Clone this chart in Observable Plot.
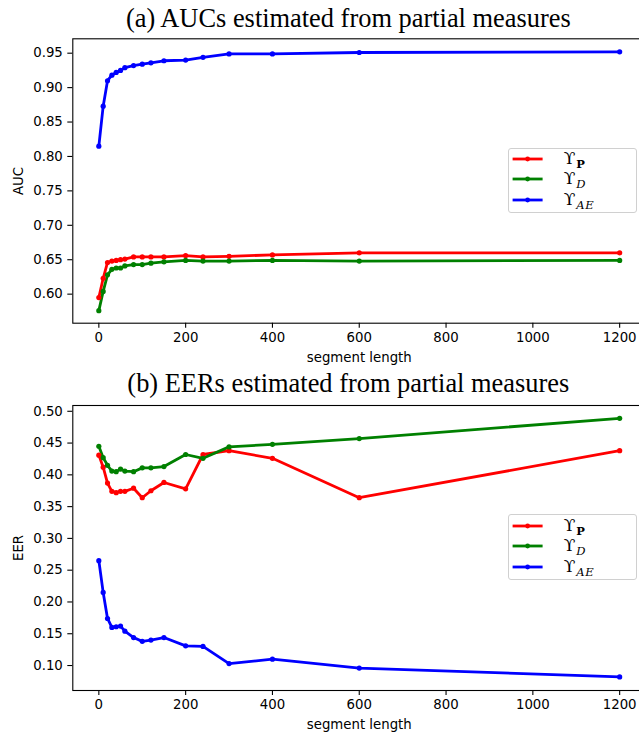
<!DOCTYPE html>
<html><head><meta charset="utf-8">
<script src="https://cdn.jsdelivr.net/npm/d3@7"></script>
<script src="https://cdn.jsdelivr.net/npm/@observablehq/plot@0.6"></script>
<style>
html,body{margin:0;padding:0;background:#fff;overflow:hidden;}
#root{position:relative;width:639px;height:735px;overflow:hidden;background:#fff;}
.title{position:absolute;left:48.3px;width:600px;text-align:center;font-family:"Liberation Serif","Times New Roman",serif;font-size:26.4px;line-height:30px;white-space:nowrap;color:#000;}
.chart{position:absolute;left:0;}
.legend{position:absolute;left:507.7px;width:129px;height:65.5px;box-sizing:border-box;border:1px solid #d0d0d0;border-radius:3px;background:rgba(255,255,255,0.85);}
.lrow{position:absolute;left:0;height:20px;width:127px;}
.lrow svg{position:absolute;left:0;top:0;}
.lab{position:absolute;left:55px;top:-1px;line-height:20px;font-family:"DejaVu Serif",serif;font-size:17px;color:#000;white-space:nowrap;}
.lab sub{font-size:11.5px;vertical-align:-4px;line-height:0;margin-left:1px;}
</style></head>
<body><div id="root"></div>
<script>
// segment lengths (x)
const segLen = [0, 10, 20, 30, 40, 50, 60, 80, 100, 120, 150, 200, 240, 300, 400, 600, 1200];
// (a) AUC values
const aucP  = [0.595, 0.623, 0.646, 0.648, 0.649, 0.650, 0.651, 0.654, 0.654, 0.654, 0.654, 0.656, 0.654, 0.655, 0.657, 0.660, 0.660];
const aucD  = [0.576, 0.604, 0.628, 0.636, 0.638, 0.638, 0.641, 0.643, 0.643, 0.645, 0.647, 0.649, 0.648, 0.648, 0.649, 0.648, 0.649];
const aucAE = [0.815, 0.873, 0.910, 0.918, 0.922, 0.925, 0.929, 0.932, 0.934, 0.936, 0.939, 0.940, 0.944, 0.949, 0.949, 0.951, 0.952];
// (b) EER values
const eerP  = [0.431, 0.412, 0.387, 0.374, 0.372, 0.374, 0.374, 0.379, 0.364, 0.375, 0.388, 0.378, 0.432, 0.438, 0.426, 0.364, 0.438];
const eerD  = [0.445, 0.427, 0.415, 0.406, 0.405, 0.409, 0.406, 0.405, 0.411, 0.411, 0.413, 0.432, 0.426, 0.444, 0.448, 0.457, 0.489];
const eerAE = [0.265, 0.215, 0.174, 0.160, 0.161, 0.162, 0.154, 0.144, 0.138, 0.140, 0.144, 0.131, 0.130, 0.103, 0.110, 0.096, 0.082];

const seriesNames = ["P", "D", "AE"];
const seriesColors = ["#ff0000", "#008000", "#0000ff"];
const xTicks = [0, 200, 400, 600, 800, 1000, 1200];
const aucTicks = [0.60, 0.65, 0.70, 0.75, 0.80, 0.85, 0.90, 0.95];
const eerTicks = [0.10, 0.15, 0.20, 0.25, 0.30, 0.35, 0.40, 0.45, 0.50];
const titles = ["(a) AUCs estimated from partial measures", "(b) EERs estimated from partial measures"];
const yLabels = ["AUC", "EER"];
const xLabel = "segment length";
const legendSubs = [
  {text: "P", style: "font-family:'DejaVu Serif',serif;font-weight:bold;font-style:normal;"},
  {text: "D", style: "font-family:'DejaVu Serif',serif;font-style:italic;"},
  {text: "AE", style: "font-family:'DejaVu Serif',serif;font-style:italic;letter-spacing:0.5px;"}
];

function rows(arrs) {
  return seriesNames.flatMap((s, i) => segLen.map((x, j) => ({x, y: arrs[i][j], s})));
}

function chart({data, yDomain, yTicks, yLabel, height, mt, mb}) {
  return Plot.plot({
    width: 650, height,
    marginLeft: 72.3, marginRight: 4.8, marginTop: mt, marginBottom: mb,
    style: {fontFamily: "DejaVu Sans", fontSize: "13.3px", color: "#000", background: "transparent", overflow: "visible", maxWidth: "none"},
    x: {domain: [-60, 1260]},
    y: {domain: yDomain},
    color: {domain: seriesNames, range: seriesColors},
    marks: [
      Plot.line(data, {x: "x", y: "y", z: "s", stroke: "s", strokeWidth: 2.8, strokeLinejoin: "round"}),
      Plot.dot(data, {x: "x", y: "y", fill: "s", r: 2.6}),
      Plot.frame({stroke: "#000", strokeWidth: 1.1}),
      Plot.axisX({ticks: xTicks, tickSize: 5, tickPadding: 4, label: null, tickFormat: d => String(d), strokeWidth: 1.1}),
      Plot.axisY({ticks: yTicks, tickSize: 5, tickPadding: 5, label: null, tickFormat: d3.format(".2f"), strokeWidth: 1.1}),
      Plot.text([xLabel], {frameAnchor: "bottom", dy: 34.5, lineAnchor: "middle", textAnchor: "middle", fontSize: 13.3}),
      Plot.text([yLabel], {frameAnchor: "left", dx: -54, rotate: -90, lineAnchor: "middle", textAnchor: "middle", fontSize: 13.3})
    ]
  });
}

const root = document.getElementById("root");

function addTitle(text, top) {
  const d = document.createElement("div");
  d.className = "title"; d.style.top = top + "px"; d.textContent = text;
  root.appendChild(d);
}

function addLegend(top, rowCenters) {
  const box = document.createElement("div");
  box.className = "legend"; box.style.top = top + "px";
  seriesNames.forEach((s, i) => {
    const row = document.createElement("div");
    row.className = "lrow";
    row.style.top = (rowCenters[i] - 10 - 1) + "px";
    const c = seriesColors[i];
    row.innerHTML = `<svg width="44" height="20"><line x1="3.6" x2="33.6" y1="10" y2="10" stroke="${c}" stroke-width="2.8"/><circle cx="18.6" cy="10" r="2.4" fill="${c}"/></svg>` +
      `<span class="lab">ϒ<sub style="${legendSubs[i].style}">${legendSubs[i].text}</sub></span>`;
    box.appendChild(row);
  });
  root.appendChild(box);
}

const c1 = chart({data: rows([aucP, aucD, aucAE]), yDomain: [0.5578, 0.9709], yTicks: aucTicks, yLabel: yLabels[0], height: 370, mt: 38.3, mb: 47.3});
c1.classList.add("chart"); c1.style.position = "absolute"; c1.style.top = "0px"; c1.style.left = "0px";
root.appendChild(c1);

const c2 = chart({data: rows([eerP, eerD, eerAE]), yDomain: [0.0607, 0.5091], yTicks: eerTicks, yLabel: yLabels[1], height: 365, mt: 35, mb: 45});
c2.classList.add("chart"); c2.style.position = "absolute"; c2.style.top = "370px"; c2.style.left = "0px";
root.appendChild(c2);

addTitle(titles[0], 2.8);
addTitle(titles[1], 368);
addLegend(147.7, [11.6, 31.6, 52.0]);
addLegend(514.3, [11.7, 31.7, 52.4]);
</script>
</body></html>
